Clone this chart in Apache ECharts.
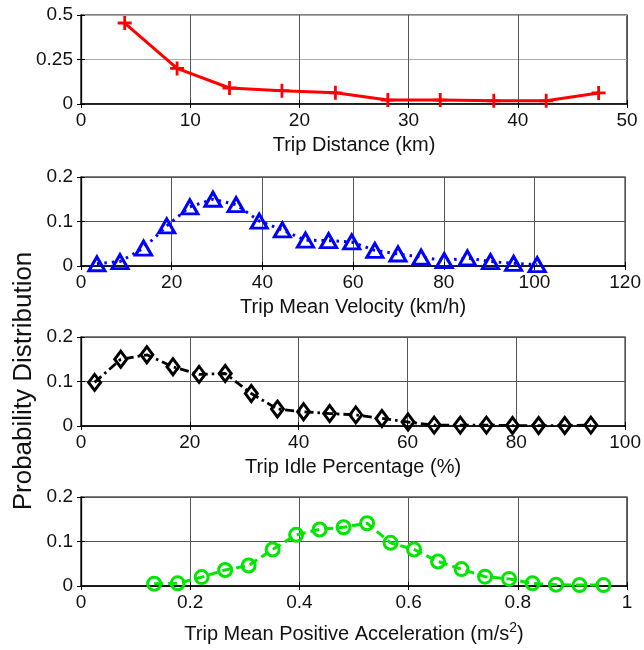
<!DOCTYPE html>
<html>
<head>
<meta charset="utf-8">
<script src="https://cdn.jsdelivr.net/npm/echarts@6/dist/echarts.min.js"></script>
<style>
  html, body { margin: 0; padding: 0; background: #fff; }
  #chart { width: 644px; height: 650px; }
</style>
</head>
<body>
<div id="chart"></div>
<script>
// Trip distance histogram (km)
const distanceBins = [4.0, 8.8, 13.6, 18.4, 23.3, 28.1, 32.9, 37.8, 42.6, 47.4];
const distanceProb = [0.455, 0.2, 0.09, 0.075, 0.063, 0.022, 0.022, 0.018, 0.018, 0.062];

// Trip mean velocity histogram (km/h)
const velocityBins = [3.5, 8.6, 13.8, 18.9, 24.0, 29.1, 34.2, 39.3, 44.4, 49.5,
                      54.6, 59.7, 64.8, 69.9, 75.0, 80.1, 85.2, 90.3, 95.4, 100.6];
const velocityProb = [0.005, 0.01, 0.04, 0.09, 0.133, 0.15, 0.138, 0.101, 0.081, 0.058,
                      0.057, 0.054, 0.035, 0.027, 0.02, 0.012, 0.018, 0.01, 0.006, 0.003];

// Trip idle percentage histogram (%)
const idleBins = [2.5, 7.3, 12.1, 16.9, 21.7, 26.5, 31.3, 36.1, 40.9, 45.7,
                  50.5, 55.3, 60.1, 64.9, 69.7, 74.5, 79.3, 84.1, 88.9, 93.7];
const idleProb = [0.098, 0.15, 0.16, 0.133, 0.116, 0.118, 0.073, 0.038, 0.032, 0.028,
                  0.025, 0.017, 0.009, 0.002, 0.002, 0.002, 0.001, 0.001, 0.001, 0.002];

// Trip mean positive acceleration histogram (m/s^2)
const accelBins = [0.134, 0.177, 0.221, 0.264, 0.307, 0.351, 0.394, 0.437, 0.481, 0.524,
                   0.567, 0.610, 0.654, 0.697, 0.740, 0.784, 0.827, 0.870, 0.913, 0.957];
const accelProb = [0.005, 0.006, 0.02, 0.036, 0.046, 0.082, 0.115, 0.127, 0.132, 0.141,
                   0.097, 0.082, 0.055, 0.038, 0.021, 0.016, 0.006, 0.003, 0.002, 0.002];

// Axis ranges and titles
const xRanges = [[0, 50, 10], [0, 120, 20], [0, 100, 20], [0, 1, 0.2]];
const yRanges = [[0, 0.5, 0.25], [0, 0.2, 0.1], [0, 0.2, 0.1], [0, 0.2, 0.1]];
const xTitles = ['Trip Distance (km)', 'Trip Mean Velocity (km/h)',
                 'Trip Idle Percentage (%)', 'Trip Mean Positive Acceleration (m/s{sup|2})'];
const yTitle = 'Probability Distribution';

const FONT = "'Liberation Sans', Arial, Helvetica, sans-serif";
const tops = [15, 177, 337, 497];
const panelH = 89;

const pair = (xs, ys) => xs.map((x, i) => [x, ys[i]]);
const seriesData = [pair(distanceBins, distanceProb), pair(velocityBins, velocityProb),
                    pair(idleBins, idleProb), pair(accelBins, accelProb)];

const grids = tops.map(t => ({
  left: 81, width: 546, top: t, height: panelH,
  show: true, borderColor: '#000', borderWidth: 1.2, backgroundColor: '#fff'
}));

const xAxes = [];
const yAxes = [];
xRanges.forEach((r, i) => {
  xAxes.push({
    type: 'value', gridIndex: i, min: r[0], max: r[1], interval: r[2],
    position: 'bottom',
    name: xTitles[i], nameLocation: 'middle', nameGap: i === 3 ? 35 : 31,
    nameTextStyle: {
      fontFamily: FONT, fontSize: 20, color: '#111',
      rich: { sup: { fontFamily: FONT, fontSize: 14, color: '#111', padding: [0, 0, 12, 0] } }
    },
    axisLine: { show: true, lineStyle: { color: '#000', width: 1.6 } },
    axisTick: { show: true, inside: true, length: 4, lineStyle: { color: '#000' } },
    axisLabel: { fontFamily: FONT, fontSize: 19, color: '#111', margin: 7 },
    splitLine: { show: true, lineStyle: { color: '#555', width: 1 } }
  });
  xAxes.push({
    type: 'value', gridIndex: i, min: r[0], max: r[1], interval: r[2],
    position: 'top',
    axisLine: { show: false },
    axisTick: { show: true, inside: true, length: 4, lineStyle: { color: '#000' } },
    axisLabel: { show: false }, splitLine: { show: false }
  });
});
yRanges.forEach((r, i) => {
  yAxes.push({
    type: 'value', gridIndex: i, min: r[0], max: r[1], interval: r[2],
    position: 'left',
    axisLine: { show: true, lineStyle: { color: '#000', width: 1.3 } },
    axisTick: { show: true, inside: true, length: 4, lineStyle: { color: '#000' } },
    axisLabel: { fontFamily: FONT, fontSize: 19, color: '#111', margin: 8 },
    splitLine: { show: true, lineStyle: { color: i === 0 ? '#aaa' : '#555', width: 1 } }
  });
  yAxes.push({
    type: 'value', gridIndex: i, min: r[0], max: r[1], interval: r[2],
    position: 'right',
    axisLine: { show: false },
    axisTick: { show: true, inside: true, length: 4, lineStyle: { color: '#000' } },
    axisLabel: { show: false }, splitLine: { show: false }
  });
});

const plusPath = 'path://M4,0H6V4H10V6H6V10H4V6H0V4H4Z';
const styles = [
  { color: '#ff0000', type: 'solid', width: 3, symbol: plusPath, size: 14,
    item: { color: '#ff0000', borderWidth: 0 } },
  { color: '#0000ff', type: [2.5, 5], width: 3, symbol: 'triangle', size: [16, 14],
    item: { color: 'rgba(0,0,0,0)', borderColor: '#0000ff', borderWidth: 3 } },
  { color: '#000000', type: [9, 4, 2.5, 4], width: 2.8, symbol: 'diamond', size: [12, 16],
    item: { color: 'rgba(0,0,0,0)', borderColor: '#000000', borderWidth: 3 } },
  { color: '#00e600', type: [9, 5], width: 3, symbol: 'circle', size: 13,
    item: { color: 'rgba(0,0,0,0)', borderColor: '#00e600', borderWidth: 3 } }
];

const series = seriesData.map((d, i) => ({
  type: 'line', xAxisIndex: i * 2, yAxisIndex: i * 2, data: d,
  symbol: styles[i].symbol, symbolSize: styles[i].size, showAllSymbol: true,
  lineStyle: { color: styles[i].color, type: styles[i].type, width: styles[i].width },
  itemStyle: styles[i].item,
  clip: false, animation: false, z: 3
}));

const chart = echarts.init(document.getElementById('chart'), null, { renderer: 'canvas' });
chart.setOption({
  backgroundColor: '#fff',
  animation: false,
  grid: grids,
  xAxis: xAxes,
  yAxis: yAxes,
  series: series,
  graphic: [{
    type: 'text', x: 24, y: 381, rotation: Math.PI / 2,
    style: {
      text: yTitle, fontFamily: FONT, fontSize: 26, fill: '#111',
      textAlign: 'center', textVerticalAlign: 'middle'
    }
  }]
});
</script>
</body>
</html>
